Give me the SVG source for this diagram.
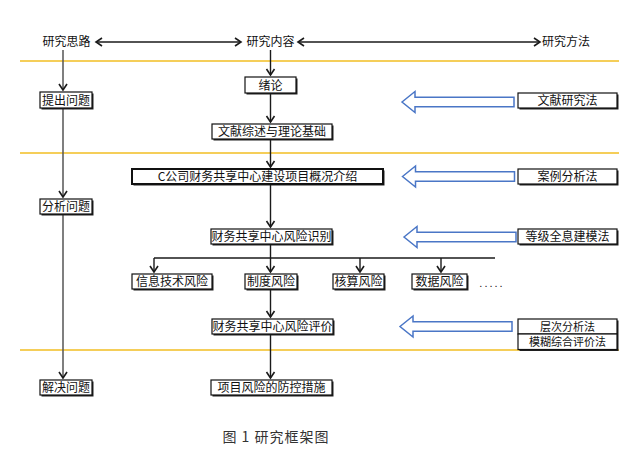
<svg xmlns="http://www.w3.org/2000/svg" width="639" height="450" viewBox="0 0 639 450">
<style>
text{font-family:"Noto Sans CJK SC","Liberation Sans",sans-serif;font-size:12px;fill:#111;text-anchor:middle}
.box{fill:#fff;stroke:#111;stroke-width:1.2}
.sh{fill:#222}
.ln{stroke:#1a1a1a;stroke-width:1.4;fill:none}
.lg{stroke:#555;stroke-width:1.5;fill:none}
.ye{stroke:#F2BE22;stroke-width:1.5}
.ba{fill:#fff;stroke:#4A76C6;stroke-width:1.5}
.cap{font-size:14px;fill:#333;letter-spacing:1px}
.sm{font-size:11px}
</style>
<defs>
<marker id="v" markerUnits="userSpaceOnUse" markerWidth="12" markerHeight="12" viewBox="-8 -6 10 12" refX="0" refY="0" orient="auto-start-reverse">
<path d="M-6,-4 L0,0 L-6,4" fill="none" stroke="#1a1a1a" stroke-width="1.6"/>
</marker>
<polygon id="barrow" points="0,0 13,-10.5 13,-4.8 112,-4.8 112,4.8 13,4.8 13,10.5"/>
</defs>
<rect width="639" height="450" fill="#fff"/>
<g id="separators">
<line class="ye" x1="20" y1="61" x2="619" y2="61"/>
<line class="ye" x1="20" y1="153" x2="619" y2="153"/>
<line class="ye" x1="20" y1="350" x2="619" y2="350"/>
</g>
<g id="connectors">
<line class="ln" x1="96" y1="42" x2="241" y2="42" marker-start="url(#v)" marker-end="url(#v)"/>
<line class="ln" x1="298" y1="42" x2="540" y2="42" marker-start="url(#v)" marker-end="url(#v)"/>
<line class="lg" x1="63" y1="50" x2="63" y2="90" marker-end="url(#v)"/>
<line class="lg" x1="63" y1="108" x2="63" y2="197" marker-end="url(#v)"/>
<line class="lg" x1="63" y1="214" x2="63" y2="378" marker-end="url(#v)"/>
<line class="ln" x1="270.5" y1="50" x2="270.5" y2="75" marker-end="url(#v)"/>
<line class="ln" x1="270.5" y1="93" x2="270.5" y2="122" marker-end="url(#v)"/>
<line class="ln" x1="270.5" y1="139" x2="270.5" y2="167" marker-end="url(#v)"/>
<line class="ln" x1="270.5" y1="184" x2="270.5" y2="227" marker-end="url(#v)"/>
<line class="ln" x1="270.5" y1="244" x2="270.5" y2="272" marker-end="url(#v)"/>
<line class="ln" x1="154" y1="258" x2="495" y2="258"/>
<line class="ln" x1="154" y1="258" x2="154" y2="272" marker-end="url(#v)"/>
<line class="ln" x1="360" y1="258" x2="360" y2="272" marker-end="url(#v)"/>
<line class="ln" x1="441" y1="258" x2="441" y2="272" marker-end="url(#v)"/>
<line class="ln" x1="270.5" y1="289" x2="270.5" y2="317" marker-end="url(#v)"/>
<line class="ln" x1="270.5" y1="334" x2="270.5" y2="378" marker-end="url(#v)"/>
<use href="#barrow" class="ba" x="402" y="102"/>
<use href="#barrow" class="ba" x="402.5" y="176.5"/>
<use href="#barrow" class="ba" x="404" y="237"/>
<use href="#barrow" class="ba" x="400" y="326.5"/>
</g>
<g id="headers">
<text x="66.5" y="46">研究思路</text>
<text x="270.5" y="46">研究内容</text>
<text x="566" y="46">研究方法</text>
</g>
<g id="n-tichu"><rect class="sh" x="41.5" y="93.5" width="52" height="16"/><rect class="box" x="40" y="92" width="52" height="16"/><text x="66" y="104.5">提出问题</text></g>
<g id="n-fenxi"><rect class="sh" x="41.5" y="200.5" width="52" height="15"/><rect class="box" x="40" y="199" width="52" height="15"/><text x="66" y="211">分析问题</text></g>
<g id="n-jiejue"><rect class="sh" x="41.5" y="381.5" width="52" height="15"/><rect class="box" x="40" y="380" width="52" height="15"/><text x="66" y="392">解决问题</text></g>
<g id="n-xulun"><rect class="sh" x="246.5" y="78.5" width="51" height="16"/><rect class="box" x="245" y="77" width="51" height="16"/><text x="270.5" y="89.5">绪论</text></g>
<g id="n-wenxian"><rect class="sh" x="213.5" y="125.5" width="120" height="15"/><rect class="box" x="212" y="124" width="120" height="15"/><text x="272" y="136">文献综述与理论基础</text></g>
<g id="n-gaikuang"><rect class="sh" x="133.5" y="170.5" width="251" height="15"/><rect class="box" x="132" y="169" width="251" height="15" style="stroke-width:2"/><text x="257.5" y="181">C公司财务共享中心建设项目概况介绍</text></g>
<g id="n-shibie"><rect class="sh" x="212.5" y="230.5" width="121" height="15"/><rect class="box" x="211" y="229" width="121" height="15"/><text x="271.5" y="241">财务共享中心风险识别</text></g>
<g id="n-xinxi"><rect class="sh" x="133.5" y="275.5" width="80" height="15"/><rect class="box" x="132" y="274" width="80" height="15"/><text x="172" y="286">信息技术风险</text></g>
<g id="n-zhidu"><rect class="sh" x="246.5" y="275.5" width="52" height="15"/><rect class="box" x="245" y="274" width="52" height="15"/><text x="271" y="286">制度风险</text></g>
<g id="n-hesuan"><rect class="sh" x="334.5" y="275.5" width="51" height="15"/><rect class="box" x="333" y="274" width="51" height="15"/><text x="358.5" y="286">核算风险</text></g>
<g id="n-shuju"><rect class="sh" x="413.5" y="275.5" width="55" height="15"/><rect class="box" x="412" y="274" width="55" height="15"/><text x="439.5" y="286">数据风险</text></g>
<g id="n-dots"><text x="492" y="287" style="font-family:'Liberation Sans',sans-serif;font-size:11px;letter-spacing:2px">.....</text></g>
<g id="n-pingjia"><rect class="sh" x="213.5" y="320.5" width="121" height="15"/><rect class="box" x="212" y="319" width="121" height="15"/><text x="272.5" y="331">财务共享中心风险评价</text></g>
<g id="n-fangkong"><rect class="sh" x="212.5" y="381.5" width="121" height="15"/><rect class="box" x="211" y="380" width="121" height="15"/><text x="271.5" y="392">项目风险的防控措施</text></g>
<g id="m-wenxian"><rect class="sh" x="519.5" y="94.5" width="99" height="15"/><rect class="box" x="518" y="93" width="99" height="15"/><text x="567.5" y="105">文献研究法</text></g>
<g id="m-anli"><rect class="sh" x="519.5" y="170.5" width="99" height="15"/><rect class="box" x="518" y="169" width="99" height="15"/><text x="567.5" y="181">案例分析法</text></g>
<g id="m-dengji"><rect class="sh" x="519.5" y="230.5" width="99" height="15"/><rect class="box" x="518" y="229" width="99" height="15"/><text x="567.5" y="241">等级全息建模法</text></g>
<g id="m-cengci"><rect class="sh" x="519.5" y="320.5" width="99" height="30.5"/><rect class="box" x="518" y="319" width="99" height="15"/><rect class="box" x="518" y="334" width="99" height="15.5"/><text class="sm" x="567.5" y="330.5">层次分析法</text><text class="sm" x="567.5" y="346">模糊综合评价法</text></g>
<g id="caption"><text class="cap" x="276" y="442">图 1 研究框架图</text></g>
</svg>
